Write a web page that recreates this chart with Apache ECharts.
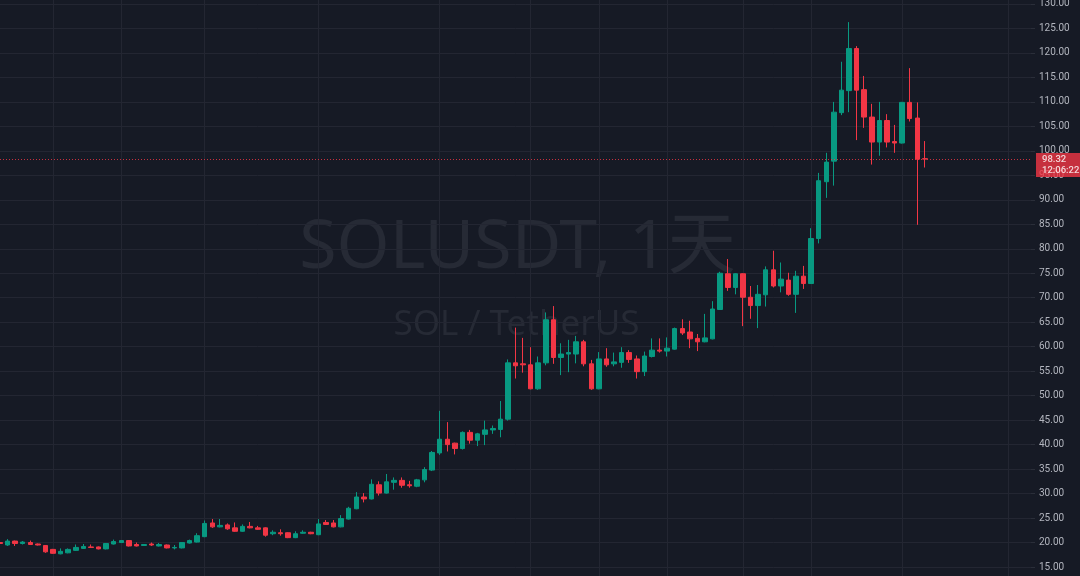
<!DOCTYPE html>
<html>
<head>
<meta charset="utf-8">
<script src="https://cdn.jsdelivr.net/npm/echarts@6/dist/echarts.min.js"></script>
<style>
html,body{margin:0;padding:0;background:#161a25;}
#chart{width:1080px;height:576px;}
</style>
</head>
<body>
<div id="chart"></div>
<script>
// ---- data (SOLUSDT daily) ----
const startDate = '2023-09-04';
const totalSlots = 137; // 123 candles + empty space on the right
const opens = [20.0,19.5,20.3,19.8,20.0,19.7,19.4,18.6,17.7,17.9,18.4,18.8,19.1,19.1,18.7,19.7,20.0,20.4,19.6,19.4,19.7,19.3,19.5,18.9,18.9,19.9,20.1,21.2,24.0,23.2,23.6,23.0,22.3,23.3,23.0,23.0,21.8,22.0,22.0,21.0,21.9,22.1,21.6,24.1,24.0,23.2,24.8,26.9,29.3,28.9,31.8,30.1,32.3,32.7,31.8,31.5,32.8,34.8,38.3,41.1,40.3,39.2,42.5,40.9,42.1,43.0,43.1,45.2,56.7,56.5,56.3,51.4,56.7,65.5,57.8,58.5,58.5,61.0,56.5,51.4,57.5,56.5,56.8,58.8,57.5,54.9,58.0,59.3,59.1,59.5,63.7,63.0,61.7,61.0,61.6,67.6,74.9,72.1,74.9,70.1,68.4,70.6,75.7,72.4,73.6,70.7,74.4,72.9,82.1,93.7,97.9,107.8,112.3,120.9,112.5,106.9,101.8,106.2,101.9,101.6,109.9,106.7,98.4];
const closes = [19.8,20.3,19.8,20.1,19.6,19.5,18.1,17.8,18.2,18.6,19.0,19.2,19.0,18.7,19.8,20.2,20.4,19.3,19.3,19.6,19.5,19.6,18.9,19.0,20.0,20.4,21.4,23.9,23.2,23.5,22.8,22.3,23.3,23.0,22.7,21.5,22.1,21.8,21.0,21.8,22.1,21.8,23.8,23.7,23.2,24.9,27.0,29.3,28.9,31.9,30.1,32.4,32.7,31.7,31.6,32.8,34.9,38.4,41.1,40.0,39.2,42.5,40.9,42.2,43.0,43.3,45.2,56.7,56.1,56.3,51.4,56.7,65.5,57.8,58.5,58.8,61.0,56.5,51.4,57.5,56.3,56.9,58.8,57.4,54.9,58.1,59.3,59.1,59.7,63.7,62.8,61.6,61.0,61.8,67.7,75.0,72.1,74.9,70.1,68.4,70.7,75.7,72.4,73.8,70.7,74.4,72.9,82.1,93.9,97.7,107.9,112.4,120.9,112.4,106.9,101.8,106.2,101.8,101.6,109.9,106.6,98.3,98.32];
const lows = [19.6,19.3,19.3,19.6,19.5,19.4,17.9,17.7,17.6,17.8,18.3,18.7,18.9,18.6,18.6,19.6,19.9,19.2,19.2,19.3,19.3,19.2,18.8,18.6,18.8,19.8,20.0,21.1,23.0,23.1,22.6,22.2,22.2,22.9,22.6,21.2,21.5,21.4,20.9,20.9,21.8,21.7,21.5,23.6,23.1,23.1,24.7,26.8,28.2,28.8,29.6,30.0,30.8,31.2,31.2,31.3,32.3,34.6,37.9,38.6,38.0,39.0,40.2,39.7,39.9,42.2,41.5,44.9,53.5,54.7,51.3,51.2,56.2,56.5,54.2,54.8,56.6,56.0,51.2,51.3,55.9,56.0,55.7,56.7,53.5,54.0,57.8,58.8,58.0,59.4,62.4,59.7,59.1,60.9,61.5,67.5,71.4,70.7,64.2,65.7,63.8,68.2,72.1,71.1,70.4,66.9,71.8,72.8,81.1,90.4,92.9,107.3,107.9,102.2,104.7,97.2,99.0,100.7,99.6,101.5,106.0,84.9,96.6];
const highs = [20.1,20.7,20.4,20.3,20.4,19.8,19.5,18.7,18.8,18.8,19.6,19.7,19.6,19.2,19.9,20.6,20.5,20.5,20.0,19.7,20.0,19.9,19.6,19.5,20.1,20.6,21.9,24.5,24.8,24.8,23.9,24.1,23.7,24.2,23.4,23.1,22.5,22.7,22.1,22.3,22.5,22.2,24.8,24.6,24.6,25.6,27.3,30.3,30.1,32.9,32.5,34.0,33.3,33.3,32.6,33.0,35.4,38.7,46.9,44.6,40.4,42.7,43.0,42.4,44.9,43.9,48.9,57.4,63.9,61.8,59.9,58.0,67.0,68.3,60.7,61.4,62.2,61.4,57.3,58.9,59.7,58.8,59.9,59.3,58.2,59.0,61.7,61.7,61.9,63.9,65.6,65.3,62.6,66.7,69.3,75.3,77.9,75.0,75.0,72.4,72.6,76.4,79.6,77.2,75.1,75.5,76.5,84.2,95.5,99.6,110.0,118.2,126.3,121.4,115.3,109.6,110.0,107.5,105.3,110.0,116.9,109.9,102.0];
const gridDates = ['2023-09-11','2023-09-20','2023-10-01','2023-10-16','2023-11-01','2023-11-13','2023-11-22','2023-12-01','2023-12-11','2023-12-20','2024-01-01','2024-01-15'];
const lastPrice = 98.32;
const countdown = '12:06:22';
const titleText = 'SOLUSDT, 1天';
const subtitleText = 'SOL / TetherUS';

// categories: consecutive days
const dates = [];
{
  const d0 = new Date(startDate + 'T00:00:00Z');
  for (let i = 0; i < totalSlots; i++) {
    const d = new Date(d0.getTime() + i * 86400000);
    dates.push(d.toISOString().slice(0, 10));
  }
}
const ohlc = opens.map((o, i) => [o, closes[i], lows[i], highs[i]]);

const UP = '#089981', DOWN = '#f23645';
const chart = echarts.init(document.getElementById('chart'), null, {renderer: 'canvas'});
const gridRight = 49;
const plotCenterX = (1080 - gridRight) / 2;

chart.setOption({
  backgroundColor: '#161a25',
  animation: false,
  grid: {left: 0, right: gridRight, top: -20.5, bottom: -15.5, containLabel: false, outerBoundsMode: 'none'},
  graphic: [
    {type: 'text', z: -10, silent: true, x: plotCenterX + 2, y: 249,
     style: {text: titleText, fill: '#262a35', font: '400 68px "Noto Sans", "Noto Sans CJK SC", sans-serif', textAlign: 'center', textVerticalAlign: 'middle'}},
    {type: 'text', z: -10, silent: true, x: plotCenterX + 1, y: 325,
     style: {text: subtitleText, fill: '#262a35', font: '400 35px "Noto Sans", "Noto Sans CJK SC", sans-serif', textAlign: 'center', textVerticalAlign: 'middle'}}
  ],
  xAxis: {
    type: 'category', data: dates, boundaryGap: false,
    axisLine: {show: false}, axisTick: {show: false}, axisLabel: {show: false},
    splitLine: {show: true, interval: (idx, val) => gridDates.includes(val), lineStyle: {color: '#232632', width: 1}}
  },
  yAxis: {
    type: 'value', position: 'right', min: 10, max: 135, interval: 5, scale: true,
    axisLine: {show: false},
    axisTick: {show: true, length: 4, lineStyle: {color: '#2a2e39'}},
    axisLabel: {color: '#b2b5be', fontSize: 10, fontFamily: 'Roboto, "Noto Sans", sans-serif', margin: 8, formatter: v => v.toFixed(2)},
    splitLine: {show: true, lineStyle: {color: '#232632', width: 1}}
  },
  series: [{
    type: 'candlestick',
    data: ohlc,
    barWidth: 5,
    itemStyle: {color: UP, color0: DOWN, borderColor: UP, borderColor0: DOWN, borderWidth: 1},
    markLine: {
      silent: true, symbol: ['none', 'none'],
      lineStyle: {color: DOWN, type: [1, 2], width: 1, opacity: 0.8},
      label: {
        show: true, position: 'end', distance: 5,
        formatter: () => lastPrice.toFixed(2) + '\n' + countdown,
        backgroundColor: DOWN, color: '#ffffff', fontSize: 9.5, fontWeight: 500, lineHeight: 11,
        fontFamily: 'Roboto, "Noto Sans", sans-serif',
        padding: [1, 8, 1, 6], align: 'left', offset: [0, 6]
      },
      data: [{yAxis: lastPrice}]
    }
  }]
});
</script>
</body>
</html>
